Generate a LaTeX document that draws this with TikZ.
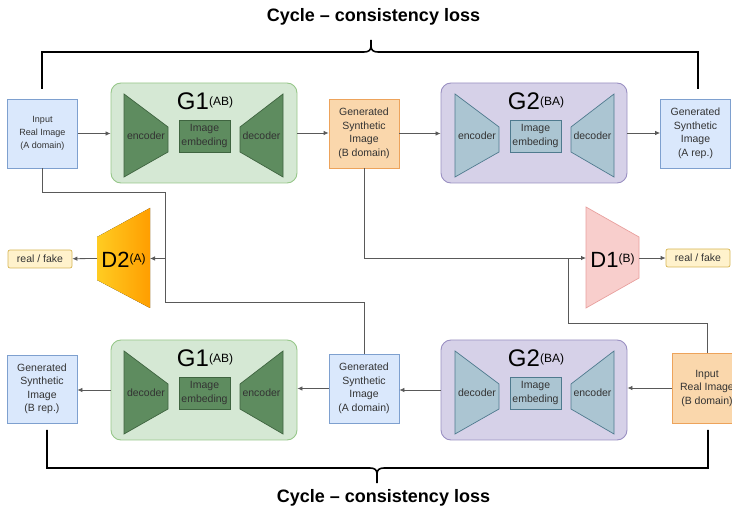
\documentclass[tikz,border=0pt]{standalone}
\usepackage{fontspec}
\setmainfont{Liberation Sans}
\usetikzlibrary{arrows.meta}
\definecolor{imgfill}{HTML}{DAE8FC}
\definecolor{imgline}{HTML}{7EA0CF}
\definecolor{genfill}{HTML}{FAD7AC}
\definecolor{genline}{HTML}{EDA35B}
\definecolor{gonefill}{HTML}{D5E8D4}
\definecolor{goneline}{HTML}{97C78A}
\definecolor{goneinner}{HTML}{5E8C5F}
\definecolor{goneedge}{HTML}{3F6440}
\definecolor{gtwofill}{HTML}{D6D1E8}
\definecolor{gtwoline}{HTML}{9A90C2}
\definecolor{gtwoinner}{HTML}{ABC5D2}
\definecolor{gtwoedge}{HTML}{4F7A8E}
\definecolor{donefill}{HTML}{F8CECC}
\definecolor{doneline}{HTML}{E8A09E}
\definecolor{dtwoleft}{HTML}{FFCC22}
\definecolor{dtworight}{HTML}{FF9E00}
\definecolor{rffill}{HTML}{FFF2CC}
\definecolor{rfline}{HTML}{D6B656}

\begin{document}
\begin{tikzpicture}[x=1pt,y=-1pt,>={Latex[length=5pt,width=4.5pt]},
 every node/.style={font=\fontsize{10.5}{13.5}\selectfont,inner sep=0pt,text=black!80},
 imgbox/.style={draw=imgline,fill=imgfill,align=center,minimum width=70pt,minimum height=69pt,line width=.8pt},
 genbox/.style={rounded corners=10pt,line width=.9pt,minimum width=186pt,minimum height=100pt},
 part/.style={line width=.7pt},
 embbox/.style={draw,align=center,minimum width=51pt,minimum height=32pt,line width=.7pt},
 gtitle/.style={anchor=base,font=\fontsize{24}{26}\selectfont,text=black},
 dtitle/.style={anchor=base,font=\fontsize{22}{24}\selectfont,text=black},
 rfbox/.style={draw=rfline,fill=rffill,rounded corners=2pt,minimum width=64pt,minimum height=18pt,line width=.7pt},
 arr/.style={->,draw=black!65,line width=.8pt},
 link/.style={draw=black!65,line width=.8pt},
 brace/.style={draw=black,line width=1.6pt},
 cyc/.style={font=\fontsize{18}{20}\selectfont\bfseries,text=black}]
\useasboundingbox (0,0) rectangle (732,513);
% cycle-consistency brackets
\node[cyc] (cyctop) at (373.5,17) {Cycle -- consistency loss};
\draw[brace] (42,89) -- (42,52) -- (364,52) .. controls (369,52) and (371,50) .. (371,46) -- (371,40)
 -- (371,46) .. controls (371,50) and (373,52) .. (378,52) -- (698,52) -- (698,89);
\node[cyc] (cycbot) at (383.5,498) {Cycle -- consistency loss};
\draw[brace] (47,430) -- (47,468) -- (370,468) .. controls (375,468) and (377,470) .. (377,474) -- (377,483)
 -- (377,474) .. controls (377,470) and (379,468) .. (384,468) -- (708,468) -- (708,430);
% image boxes
\node[imgbox,font=\fontsize{9}{13}\selectfont] (inA) at (42.5,133.5) {Input\\Real Image\\(A domain)};
\node[imgbox,draw=genline,fill=genfill] (genB) at (364,133.5) {Generated\\Synthetic\\Image\\(B domain)};
\node[imgbox] (repA) at (695.5,133.5) {Generated\\Synthetic\\Image\\(A rep.)};
\node[imgbox,minimum height=68pt] (repB) at (42,389) {Generated\\Synthetic\\Image\\(B rep.)};
\node[imgbox] (genA) at (364,388.5) {Generated\\Synthetic\\Image\\(A domain)};
\node[imgbox,draw=genline,fill=genfill,minimum height=70pt] (inB) at (707,388) {Input\\Real Image\\(B domain)};
% generators, top row
\begin{scope}[shift={(111,83)}]
\node[genbox,draw=goneline,fill=gonefill] (g1a) at (93,50) {};
\node[gtitle] (g1at) at (94,27) {G1\raisebox{4pt}{\fontsize{12}{14}\selectfont(AB)}};
\draw[part,draw=goneedge,fill=goneinner] (13,11) -- (57,44) -- (57,69) -- (13,94) -- cycle;
\draw[part,draw=goneedge,fill=goneinner] (129,44) -- (172,11) -- (172,94) -- (129,69) -- cycle;
\node (g1aenc) at (35,52.5) {encoder};
\node[embbox,draw=goneedge,fill=goneinner] (g1aemb) at (93.5,53) {Image\\embeding};
\node (g1adec) at (150.5,52.5) {decoder};
\end{scope}
\begin{scope}[shift={(442,83)}]
\node[genbox,draw=gtwoline,fill=gtwofill] (g2a) at (92,50) {};
\node[gtitle] (g2at) at (94,27) {G2\raisebox{4pt}{\fontsize{12}{14}\selectfont(BA)}};
\draw[part,draw=gtwoedge,fill=gtwoinner] (13,11) -- (57,44) -- (57,69) -- (13,94) -- cycle;
\draw[part,draw=gtwoedge,fill=gtwoinner] (129,44) -- (172,11) -- (172,94) -- (129,69) -- cycle;
\node (g2aenc) at (35,52.5) {encoder};
\node[embbox,draw=gtwoedge,fill=gtwoinner] (g2aemb) at (93.5,53) {Image\\embeding};
\node (g2adec) at (150.5,52.5) {decoder};
\end{scope}
% generators, bottom row
\begin{scope}[shift={(111,340)}]
\node[genbox,draw=goneline,fill=gonefill] (g1b) at (93,50) {};
\node[gtitle] (g1bt) at (94,27) {G1\raisebox{4pt}{\fontsize{12}{14}\selectfont(AB)}};
\draw[part,draw=goneedge,fill=goneinner] (13,11) -- (57,44) -- (57,69) -- (13,94) -- cycle;
\draw[part,draw=goneedge,fill=goneinner] (129,44) -- (172,11) -- (172,94) -- (129,69) -- cycle;
\node (g1bdec) at (35,52.5) {decoder};
\node[embbox,draw=goneedge,fill=goneinner] (g1bemb) at (93.5,53) {Image\\embeding};
\node (g1benc) at (150.5,52.5) {encoder};
\end{scope}
\begin{scope}[shift={(442,340)}]
\node[genbox,draw=gtwoline,fill=gtwofill] (g2b) at (92,50) {};
\node[gtitle] (g2bt) at (94,27) {G2\raisebox{4pt}{\fontsize{12}{14}\selectfont(BA)}};
\draw[part,draw=gtwoedge,fill=gtwoinner] (13,11) -- (57,44) -- (57,69) -- (13,94) -- cycle;
\draw[part,draw=gtwoedge,fill=gtwoinner] (129,44) -- (172,11) -- (172,94) -- (129,69) -- cycle;
\node (g2bdec) at (35,52.5) {decoder};
\node[embbox,draw=gtwoedge,fill=gtwoinner] (g2bemb) at (93.5,53) {Image\\embeding};
\node (g2benc) at (150.5,52.5) {encoder};
\end{scope}
% discriminators
\fill[left color=dtwoleft,right color=dtworight] (97,237) -- (150,208) -- (150,308) -- (97,280) -- cycle;
\coordinate (d2in) at (150,258.5);
\coordinate (d2out) at (97,258.5);
\node[dtitle] (d2) at (123.5,268) {D2\raisebox{5pt}{\fontsize{12}{14}\selectfont(A)}};
\node[rfbox] (rfa) at (40,259) {real / fake};
\draw[part,draw=doneline,fill=donefill] (586,207) -- (639,237) -- (639,278) -- (586,308) -- cycle;
\coordinate (d1in) at (586,258);
\coordinate (d1out) at (639,258);
\node[dtitle] (d1) at (612.5,268) {D1\raisebox{5pt}{\fontsize{12}{14}\selectfont(B)}};
\node[rfbox] (rfb) at (698,258) {real / fake};
% main flow
\draw[arr] (inA) -- (inA -| g1a.west);
\draw[arr] (g1a) -- (g1a -| genB.west);
\draw[arr] (genB) -- (genB -| g2a.west);
\draw[arr] (g2a) -- (g2a -| repA.west);
\draw[arr] (inB) -- (inB -| g2b.east);
\draw[arr] (g2b) -- (g2b -| genA.east);
\draw[arr] (genA) -- (genA -| g1b.east);
\draw[arr] (g1b) -- (g1b -| repB.east);
% into the discriminators
\coordinate (bendA) at (165,192);
\coordinate (jA) at (165,258.5);
\coordinate (lowA) at (165,302);
\draw[link] (inA.south) |- (bendA) -- (jA);
\draw[link] (genA.north) |- (lowA) -- (jA);
\draw[arr] (jA) -- (d2in);
\draw[arr] (d2out) -- (rfa);
\coordinate (jB) at (568,258);
\coordinate (lowB) at (568,323);
\draw[arr] (genB.south) |- (d1in);
\draw[link] (inB.north) |- (lowB) -- (jB);
\draw[arr] (d1out) -- (rfb);
\end{tikzpicture}
\end{document}
